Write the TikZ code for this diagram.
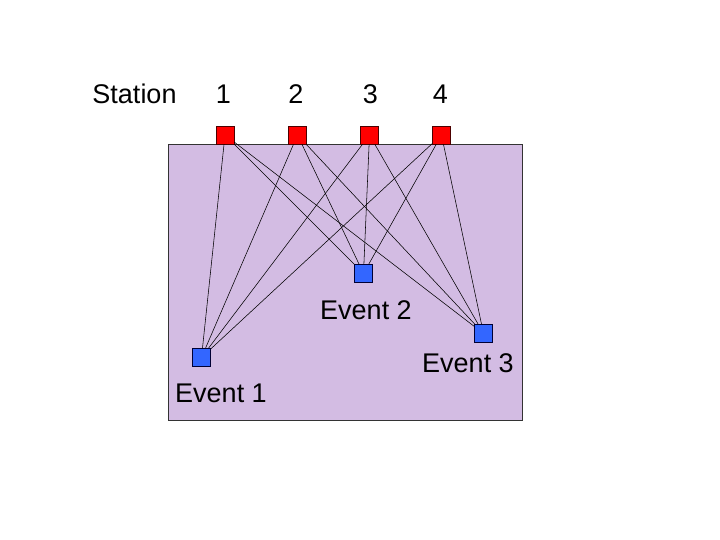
\documentclass[tikz,border=0pt]{standalone}
\usepackage{fontspec}
\setmainfont{Liberation Sans}
\definecolor{lav}{RGB}{211,188,227}
\definecolor{stred}{RGB}{255,0,0}
\definecolor{evblue}{RGB}{51,102,255}
\tikzset{
  station/.style={draw=black!70!red, fill=stred, minimum size=18pt, inner sep=0pt, line width=0.6pt},
  event/.style={draw=black!80!blue, fill=evblue, minimum size=18pt, inner sep=0pt, line width=0.6pt},
  lbl/.style={anchor=base, font=\fontsize{27}{31}\selectfont, inner sep=0pt},
  link/.style={line width=0.55pt, black}
}
\begin{document}
\begin{tikzpicture}[x=1pt,y=-1pt]
\useasboundingbox (0,0) rectangle (720,540);
\node[draw=black!80, fill=lav, line width=0.8pt, minimum width=354pt, minimum height=276pt, inner sep=0pt] (area) at (345.5,282) {};
\node[lbl] (tst) at (134.5,104) {Station};
\node[lbl] (t1) at (223.5,104) {1};
\node[lbl] (t2) at (296,104) {2};
\node[lbl] (t3) at (370.5,104) {3};
\node[lbl] (t4) at (440.5,104) {4};
\node[station] (s1) at (225,135) {};
\node[station] (s2) at (297.5,135) {};
\node[station] (s3) at (369.5,135) {};
\node[station] (s4) at (441.5,135) {};
\node[event] (e1) at (201.5,357.5) {};
\node[event] (e2) at (363.5,273.5) {};
\node[event] (e3) at (483.5,333.5) {};
\foreach \s in {s1,s2,s3,s4}{
  \foreach \e in {e1,e2,e3}{
    \draw[link] (\s) -- (\e);
  }
}
\node[lbl] (l1) at (221,402.5) {Event 1};
\node[lbl] (l2) at (366,319) {Event 2};
\node[lbl] (l3) at (468,372.5) {Event 3};
\end{tikzpicture}
\end{document}
